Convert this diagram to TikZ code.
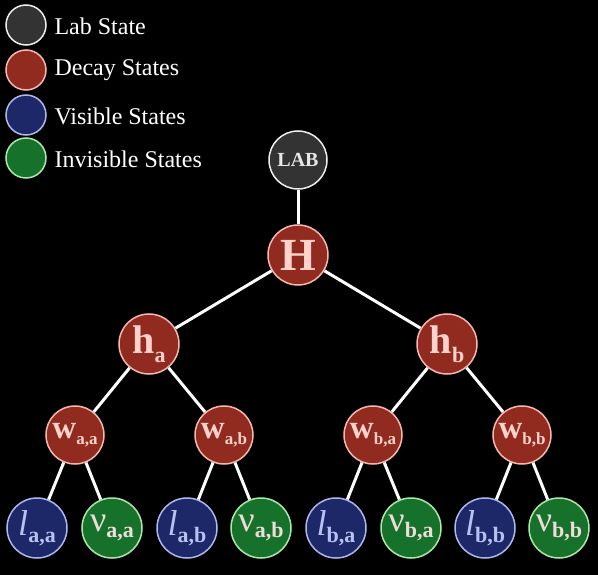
\documentclass[tikz,border=0pt]{standalone}
\usepackage{fontspec}
\setmainfont{Liberation Serif}
\definecolor{labfill}{HTML}{333333}
\definecolor{labline}{HTML}{EEEEEE}
\definecolor{labtext}{HTML}{E6E6E6}
\definecolor{decfill}{HTML}{912A1F}
\definecolor{decline}{HTML}{F4B8B0}
\definecolor{dectext}{HTML}{FFD2CC}
\definecolor{visfill}{HTML}{1C2868}
\definecolor{visline}{HTML}{AEB8EC}
\definecolor{vistext}{HTML}{B8C2F2}
\definecolor{invfill}{HTML}{16722B}
\definecolor{invline}{HTML}{ACE8AC}
\definecolor{invtext}{HTML}{F0DCD8}
\newcommand{\fs}[1]{\fontsize{#1}{#1}\selectfont}
\begin{document}
\begin{tikzpicture}[x=1pt,y=-1pt,
  st/.style={circle,inner sep=0pt,line width=1.5pt},
  labst/.style={st,fill=labfill,draw=labline,text=labtext,minimum size=58pt},
  decst/.style={st,fill=decfill,draw=decline,text=dectext},
  visst/.style={st,fill=visfill,draw=visline,text=vistext,minimum size=60pt},
  invst/.style={st,fill=invfill,draw=invline,text=invtext,minimum size=60pt},
  leg/.style={st,minimum size=40pt},
  legtext/.style={anchor=west,text=white,font=\fs{24}},
  edge/.style={draw=white,line width=3pt}]
\fill[black] (0,0) rectangle (598,575);
\useasboundingbox (0,0) rectangle (598,575);
% legend
\node[leg,fill=labfill,draw=labline] (g1) at (26,25) {};
\node[leg,fill=decfill,draw=decline] (g2) at (26,70) {};
\node[leg,fill=visfill,draw=visline] (g3) at (26,115) {};
\node[leg,fill=invfill,draw=invline] (g4) at (26,158) {};
\node[legtext] (t1) at (51,26) {Lab State};
\node[legtext] (t2) at (51,70) {Decay States};
\node[legtext] (t3) at (51,116) {Visible States};
\node[legtext] (t4) at (51,159) {Invisible States};
% tree
\node[labst] (lab) at (298,160) {\fs{20}\textbf{LAB}};
\node[decst,minimum size=60pt] (H) at (298,255) {\fs{46}\textbf{H}};
\node[decst,minimum size=60pt] (ha) at (149,344) {\fs{40}\textbf{h}\raisebox{-9pt}{\fs{22}\textbf{a}}};
\node[decst,minimum size=60pt] (hb) at (447,344) {\fs{40}\textbf{h}\raisebox{-9pt}{\fs{22}\textbf{b}}};
\node[decst,minimum size=58pt] (waa) at (75,435) {\fs{33}\textbf{w}\raisebox{-6pt}{\fs{17}\textbf{a,a}}};
\node[decst,minimum size=58pt] (wab) at (224,435) {\fs{33}\textbf{w}\raisebox{-6pt}{\fs{17}\textbf{a,b}}};
\node[decst,minimum size=58pt] (wba) at (373,435) {\fs{33}\textbf{w}\raisebox{-6pt}{\fs{17}\textbf{b,a}}};
\node[decst,minimum size=58pt] (wbb) at (522,435) {\fs{33}\textbf{w}\raisebox{-6pt}{\fs{17}\textbf{b,b}}};
\node[visst] (laa) at (37,528) {\fs{36}\textit{l}\raisebox{-7pt}{\fs{22}\textbf{a,a}}};
\node[invst] (naa) at (112,528) {\fs{36}ν\raisebox{-6pt}{\fs{22}\textbf{a,a}}};
\node[visst] (lab2) at (187,528) {\fs{36}\textit{l}\raisebox{-7pt}{\fs{22}\textbf{a,b}}};
\node[invst] (nab) at (261,528) {\fs{36}ν\raisebox{-6pt}{\fs{22}\textbf{a,b}}};
\node[visst] (lba) at (336,528) {\fs{36}\textit{l}\raisebox{-7pt}{\fs{22}\textbf{b,a}}};
\node[invst] (nba) at (411,528) {\fs{36}ν\raisebox{-6pt}{\fs{22}\textbf{b,a}}};
\node[visst] (lbb) at (485,528) {\fs{36}\textit{l}\raisebox{-7pt}{\fs{22}\textbf{b,b}}};
\node[invst] (nbb) at (559,528) {\fs{36}ν\raisebox{-6pt}{\fs{22}\textbf{b,b}}};
% edges
\path[edge] (lab) -- (H);
\path[edge] (H) -- (ha);
\path[edge] (H) -- (hb);
\path[edge] (ha) -- (waa);
\path[edge] (ha) -- (wab);
\path[edge] (hb) -- (wba);
\path[edge] (hb) -- (wbb);
\path[edge] (waa) -- (laa);
\path[edge] (waa) -- (naa);
\path[edge] (wab) -- (lab2);
\path[edge] (wab) -- (nab);
\path[edge] (wba) -- (lba);
\path[edge] (wba) -- (nba);
\path[edge] (wbb) -- (lbb);
\path[edge] (wbb) -- (nbb);
\end{tikzpicture}
\end{document}
